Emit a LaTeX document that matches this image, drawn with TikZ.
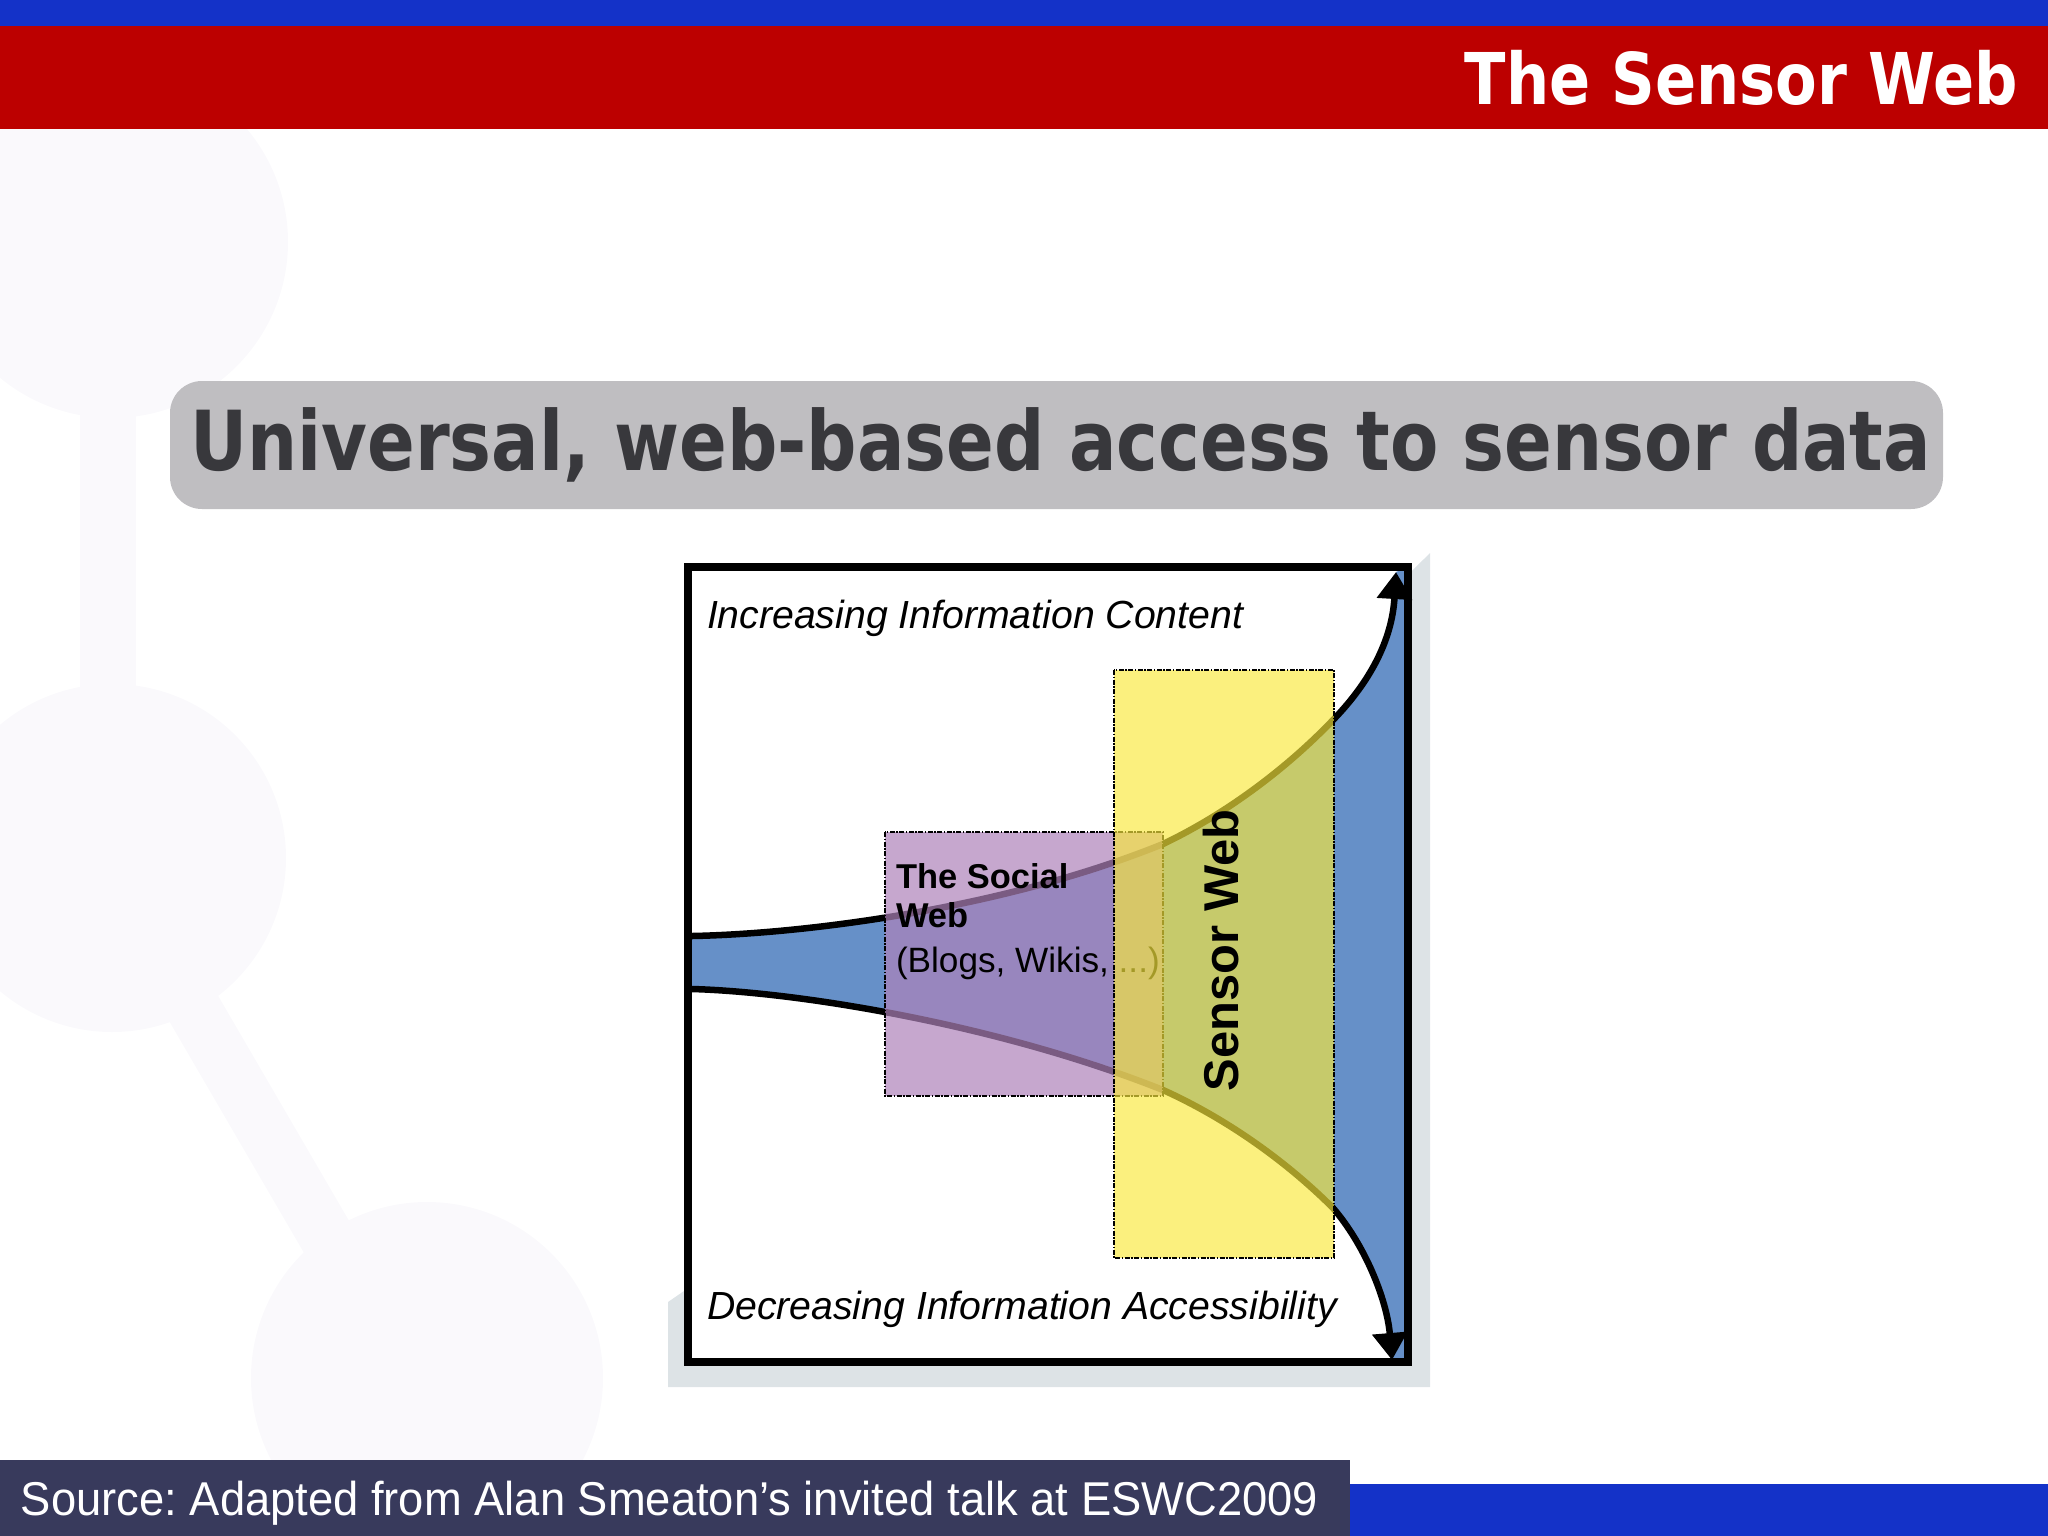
\documentclass[tikz,border=0pt]{standalone}
\usepackage{fontspec}
\setmainfont{Liberation Sans}
\newfontfamily\headfont[FakeStretch=0.85]{DejaVu Sans}
\newfontfamily\sourcefont[FakeStretch=0.955]{Liberation Sans}
\usetikzlibrary{arrows.meta}

\definecolor{barblue}{HTML}{1432C8}
\definecolor{barred}{HTML}{BC0000}
\definecolor{barnavy}{HTML}{383A5C}
\definecolor{headgrey}{HTML}{BFBEC1}
\definecolor{headink}{HTML}{38383C}
\definecolor{markpale}{HTML}{FAF9FC}
\definecolor{shadowgrey}{HTML}{DDE3E6}
\definecolor{fanblue}{HTML}{6690C8}
\definecolor{socialfill}{HTML}{AE83BA}
\definecolor{sensorfill}{HTML}{F9E93C}

\tikzset{
  plaintext/.style={anchor=base west, inner sep=0pt, outer sep=0pt},
  fanline/.style={black, line width=0.065cm},
  fantip/.style={-{Triangle[length=0.27cm, width=0.34cm]}},
  webbox/.style={draw=black, line width=0.02cm, dash pattern=on 0.05cm off 0.015cm on 0.015cm off 0.015cm},
  markbar/.style={markpale, line width=0.55cm},
}

\begin{document}
\frenchspacing
\begin{tikzpicture}[x=0.01cm, y=-0.01cm]
      \useasboundingbox (0, 0) rectangle (2048, 1536);

      % pale mark behind the slide
      \fill [markpale] (112, 242) circle [radius=176];
      \fill [markpale] (112, 858) circle [radius=174];
      \fill [markpale] (427, 1378) circle [radius=176];
      \draw [markbar] (108, 300) -- (108, 800);
      \draw [markbar] (180, 985) -- (340, 1260);

      % bars
      \fill [barblue] (0, 0) rectangle (2048, 27);
      \fill [barred] (0, 26) rectangle (2048, 129);
      \fill [barblue] (1350, 1484) rectangle (2048, 1536);
      \fill [barnavy] (0, 1460) rectangle (1350, 1536);
      \node [plaintext, anchor=base east, white] (slidetitle) at (2018, 104)
        {\headfont\bfseries\fontsize{20.3}{24}\selectfont The Sensor Web};
      \node [plaintext, white] (source) at (21, 1515)
        {\sourcefont\fontsize{13.5}{16}\selectfont Source: Adapted from Alan Smeaton’s invited talk at ESWC2009};

      % headline
      \fill [headgrey, rounded corners=0.32cm] (170, 381) rectangle (1943, 509);
      \node [plaintext, headink] (headline) at (190, 470)
        {\headfont\bfseries\fontsize{23.55}{28}\selectfont Universal, web-based access to sensor data};

      % picture
      \fill [shadowgrey] (1430, 553) -- (1430, 1387) -- (668, 1387) -- (668, 1302) -- (700, 1280) -- cycle;
      \fill [white] (688, 567) rectangle (1408, 1362);

      \fill [fanblue] (692, 936) .. controls (800, 934) and (1000, 910) .. (1163, 844)
        .. controls (1230, 812) and (1290, 765) .. (1333, 720)
        .. controls (1370, 682) and (1392, 640) .. (1396, 572)
        -- (1408, 567) -- (1408, 1362) -- (1392, 1360)
        .. controls (1387, 1300) and (1365, 1245) .. (1333, 1208)
        .. controls (1285, 1160) and (1225, 1118) .. (1163, 1090)
        .. controls (1000, 1025) and (800, 992) .. (692, 989) -- (688, 989) -- (688, 936) -- cycle;
      \draw [fanline, fantip] (692, 936) .. controls (800, 934) and (1000, 910) .. (1163, 844)
        .. controls (1230, 812) and (1290, 765) .. (1333, 720)
        .. controls (1370, 682) and (1392, 640) .. (1396, 572);
      \draw [fanline, fantip] (692, 989) .. controls (800, 992) and (1000, 1025) .. (1163, 1090)
        .. controls (1225, 1118) and (1285, 1160) .. (1333, 1208)
        .. controls (1365, 1245) and (1387, 1300) .. (1392, 1360);

      \filldraw [webbox, fill=socialfill, fill opacity=0.7] (885, 832) rectangle (1163, 1096);
      \node [plaintext] (blogs) at (896, 972) {\fontsize{10}{12}\selectfont (Blogs, Wikis, ...)};
      \filldraw [webbox, fill=sensorfill, fill opacity=0.66] (1114, 670) rectangle (1334, 1258);

      \node [plaintext] (socialone) at (896, 888) {\fontsize{9.8}{12}\selectfont\bfseries The Social};
      \node [plaintext] (socialtwo) at (896, 927) {\fontsize{9.8}{12}\selectfont\bfseries Web};
      \node [plaintext, rotate=90] (sensorweb) at (1238, 1091) {\fontsize{13.9}{15}\selectfont\bfseries Sensor Web};
      \node [plaintext] (content) at (707, 628) {\fontsize{11.15}{13}\selectfont\itshape Increasing Information Content};
      \node [plaintext] (access) at (707, 1319) {\fontsize{11.15}{13}\selectfont\itshape Decreasing Information Accessibility};

      \draw [black, line width=0.08cm] (688, 567) rectangle (1408, 1362);

    \end{tikzpicture}
\end{document}
